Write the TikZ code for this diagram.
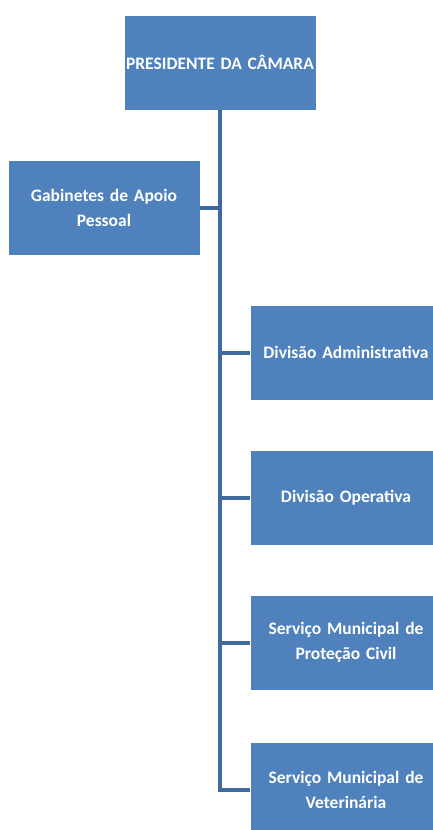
\documentclass[tikz,border=0pt]{standalone}
\usepackage{fontspec}
\setmainfont{Carlito}
\usepackage{xcolor}
\usetikzlibrary{positioning}
\definecolor{boxblue}{HTML}{4F81BD}
\definecolor{lineblue}{HTML}{3F6A9E}

\begin{document}
\begin{tikzpicture}[x=1pt, y=-1pt,
    unit style/.style={
        rectangle, draw=white, line width=0.6pt, fill=boxblue,
        minimum width=188pt, minimum height=95pt,
        text=white, text width=192pt, align=center, inner sep=0pt,
        font=\fontsize{17.5}{25}\selectfont\bfseries
    },
    edge/.style={lineblue, line width=4pt}
]
    \useasboundingbox (0,0) rectangle (433,830);

    \node[unit style] (pres) at (220,62.5) {PRESIDENTE DA CÂMARA};
    \node[unit style] (gab) at (104,207.5) {Gabinetes de Apoio\\Pessoal};
    \node[unit style] (adm) at (346,352.5) {Divisão Administrativa};
    \node[unit style] (ope) at (346,497.5) {Divisão Operativa};
    \node[unit style] (pc) at (346,642.5) {Serviço Municipal de\\Proteção Civil};
    \node[unit style] (vet) at (346,790) {Serviço Municipal de\\Veterinária};

    \draw[edge] (pres.south) |- (vet.west);
    \draw[edge] (gab.east) -- (gab.east -| pres.south);
    \draw[edge] (adm.west -| pres.south) -- (adm.west);
    \draw[edge] (ope.west -| pres.south) -- (ope.west);
    \draw[edge] (pc.west -| pres.south) -- (pc.west);

\end{tikzpicture}
\end{document}
